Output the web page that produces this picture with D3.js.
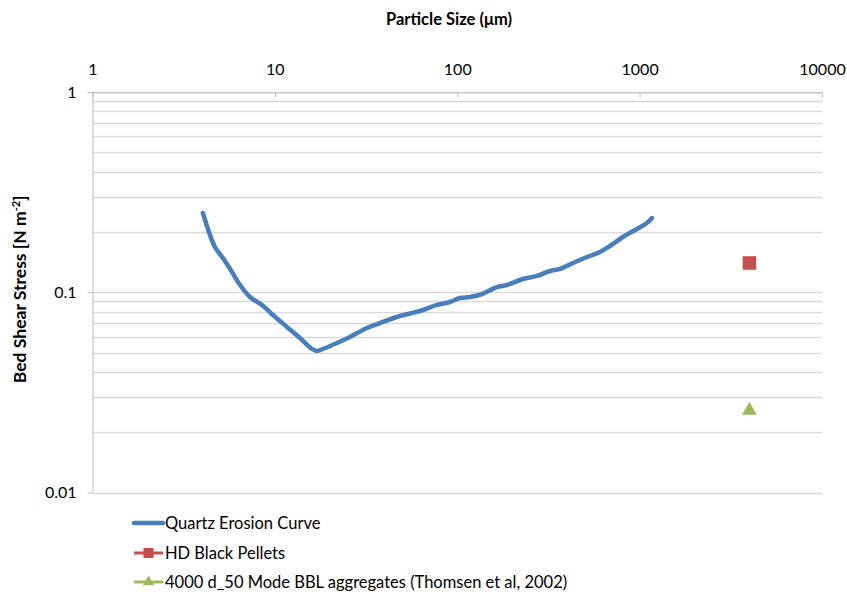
<!DOCTYPE html>
<html>
<head>
<meta charset="utf-8">
<script src="https://cdn.jsdelivr.net/npm/d3@7"></script>
<style>
  body { margin: 0; background: #fff; }
  text { font-family: Lato, "Open Sans", sans-serif; fill: #000; }
</style>
</head>
<body>
<div id="chart"></div>
<script>
// quartz erosion curve (size in um, stress in N m-2)
var quartzSize = [4.03, 4.69, 5.19, 5.82, 6.44, 7.30, 8.50, 9.76, 11.65, 13.73, 15.97, 17.02, 18.35, 21.9, 25.8, 31.98, 37.7,
  48.5, 62.45, 77.4, 91.2, 103.5, 117.4, 136.6, 165.1, 187.3, 229.2, 273.5, 322.3, 365.6, 430.9, 514.1, 605.8, 687.4, 809.8, 966.5, 1096, 1168]
var quartzStress = [0.2487, 0.1683, 0.1483, 0.1262, 0.1087, 0.0947, 0.0864, 0.0770, 0.0671, 0.0591, 0.0521, 0.0509, 0.0521, 0.0558, 0.0598, 0.0663, 0.0702,
  0.0761, 0.0806, 0.0864, 0.0894, 0.0936, 0.0947, 0.0980, 0.1062, 0.1087, 0.1165, 0.1206, 0.1277, 0.1307, 0.1400, 0.1500, 0.1589, 0.1702, 0.1887, 0.2069, 0.2217, 0.2348]

var pellets = [{x: 4000, y: 0.14}]
var aggregates = [{x: 4000, y: 0.026}]

var xTicks = [1, 10, 100, 1000, 10000]
var yTicks = [0.01, 0.1, 1]
var legendNames = ["Quartz Erosion Curve", "HD Black Pellets", "4000 d_50 Mode BBL aggregates (Thomsen et al, 2002)"]

var blue = "#4a7ebb", red = "#c0504d", green = "#9bbb59"

var width = 847, height = 596
var pl = 92.5, pr = 822, pt = 92, pb = 492.5

var svg = d3.select("#chart").append("svg")
    .attr("width", width)
    .attr("height", height)

var xScale = d3.scaleLog().domain([1, 10000]).range([pl, pr])
var yScale = d3.scaleLog().domain([0.01, 1]).range([pb, pt])

// horizontal grid lines, major and minor
var gridVals = []
;[0.01, 0.1].forEach(function(d){
    for (var k = 1; k < 10; k++) gridVals.push(d * k)
})
gridVals.push(1)

svg.append("g").selectAll("line").data(gridVals)
    .enter().append("line")
    .attr("x1", pl)
    .attr("x2", pr)
    .attr("y1", function(d){return Math.round(yScale(d)) + 0.5})
    .attr("y2", function(d){return Math.round(yScale(d)) + 0.5})
    .attr("stroke", "#d9d9d9")
    .attr("stroke-width", 1.3)

// x axis on top
var xAxis = d3.axisTop(xScale).tickValues(xTicks).tickFormat(d3.format("d")).tickSizeInner(-5).tickSizeOuter(0).tickPadding(18)
var gx = svg.append("g")
    .attr("transform", "translate(0," + (pt + 0.5) + ")")
    .call(xAxis)
gx.select(".domain").attr("stroke", "#bfbfbf")
gx.selectAll(".tick line").attr("stroke", "#bfbfbf")
gx.selectAll("text").style("font-size", "16px").attr("fill", "#000").style("font-family", "Lato")

// y axis
var yAxis = d3.axisLeft(yScale).tickValues(yTicks).tickFormat(function(d){return d}).tickSizeInner(5).tickSizeOuter(0).tickPadding(11)
var gy = svg.append("g")
    .attr("transform", "translate(" + pl + ",0)")
    .call(yAxis)
gy.select(".domain").attr("stroke", "#bfbfbf")
gy.selectAll(".tick line").attr("stroke", "#bfbfbf")
gy.selectAll("text").style("font-size", "16px").attr("fill", "#000").style("font-family", "Lato")

// titles
svg.append("text")
    .attr("x", 449)
    .attr("y", 25)
    .attr("text-anchor", "middle")
    .style("font-size", "16.5px")
    .style("font-weight", "bold")
    .text("Particle Size (\u03bcm)")

var yt = svg.append("text")
    .attr("transform", "translate(26," + ((pt + pb) / 2 - 3) + ") rotate(-90)")
    .attr("text-anchor", "middle")
    .style("font-size", "17.5px")
    .style("font-weight", "bold")
yt.append("tspan").text("Bed Shear Stress [N m")
yt.append("tspan").attr("baseline-shift", "super").style("font-size", "11px").text("-2")
yt.append("tspan").text("]")

// quartz curve
var pts = quartzSize.map(function(d, i){return {x: d, y: quartzStress[i]}})
var line = d3.line()
    .x(function(d){return xScale(d.x)})
    .y(function(d){return yScale(d.y)})
    .curve(d3.curveCatmullRom.alpha(0.5))

svg.append("path")
    .datum(pts)
    .attr("d", line)
    .attr("fill", "none")
    .attr("stroke", blue)
    .attr("stroke-width", 4.5)
    .attr("stroke-linecap", "round")
    .attr("stroke-linejoin", "round")

// markers
var sq = 13.5
svg.selectAll(".pellet").data(pellets)
    .enter().append("rect")
    .attr("class", "pellet")
    .attr("x", function(d){return xScale(d.x) - sq / 2})
    .attr("y", function(d){return yScale(d.y) - sq / 2})
    .attr("width", sq)
    .attr("height", sq)
    .attr("fill", red)

var tri = d3.symbol().type(d3.symbolTriangle).size(95)
svg.selectAll(".agg").data(aggregates)
    .enter().append("path")
    .attr("class", "agg")
    .attr("transform", function(d){return "translate(" + xScale(d.x) + "," + (yScale(d.y) + 1) + ")"})
    .attr("d", tri)
    .attr("fill", green)

// legend
var legY = [523, 553, 582]
var legX = 134
var leg = svg.append("g")

leg.append("line").attr("x1", legX).attr("x2", legX + 29).attr("y1", legY[0]).attr("y2", legY[0])
    .attr("stroke", blue).attr("stroke-width", 4.5).attr("stroke-linecap", "round")

leg.append("line").attr("x1", legX).attr("x2", legX + 29).attr("y1", legY[1]).attr("y2", legY[1])
    .attr("stroke", red).attr("stroke-width", 3)
leg.append("rect").attr("x", legX + 14.5 - 5).attr("y", legY[1] - 5).attr("width", 10).attr("height", 10).attr("fill", red)

leg.append("line").attr("x1", legX).attr("x2", legX + 29).attr("y1", legY[2]).attr("y2", legY[2])
    .attr("stroke", green).attr("stroke-width", 3)
leg.append("path").attr("transform", "translate(" + (legX + 14.5) + "," + legY[2] + ")")
    .attr("d", d3.symbol().type(d3.symbolTriangle).size(55)).attr("fill", green)

leg.selectAll("text").data(legendNames)
    .enter().append("text")
    .attr("x", legX + 31)
    .attr("y", function(d, i){return legY[i]})
    .attr("dy", "0.35em")
    .style("font-size", "16.5px")
    .text(function(d){return d})
</script>
</body>
</html>
